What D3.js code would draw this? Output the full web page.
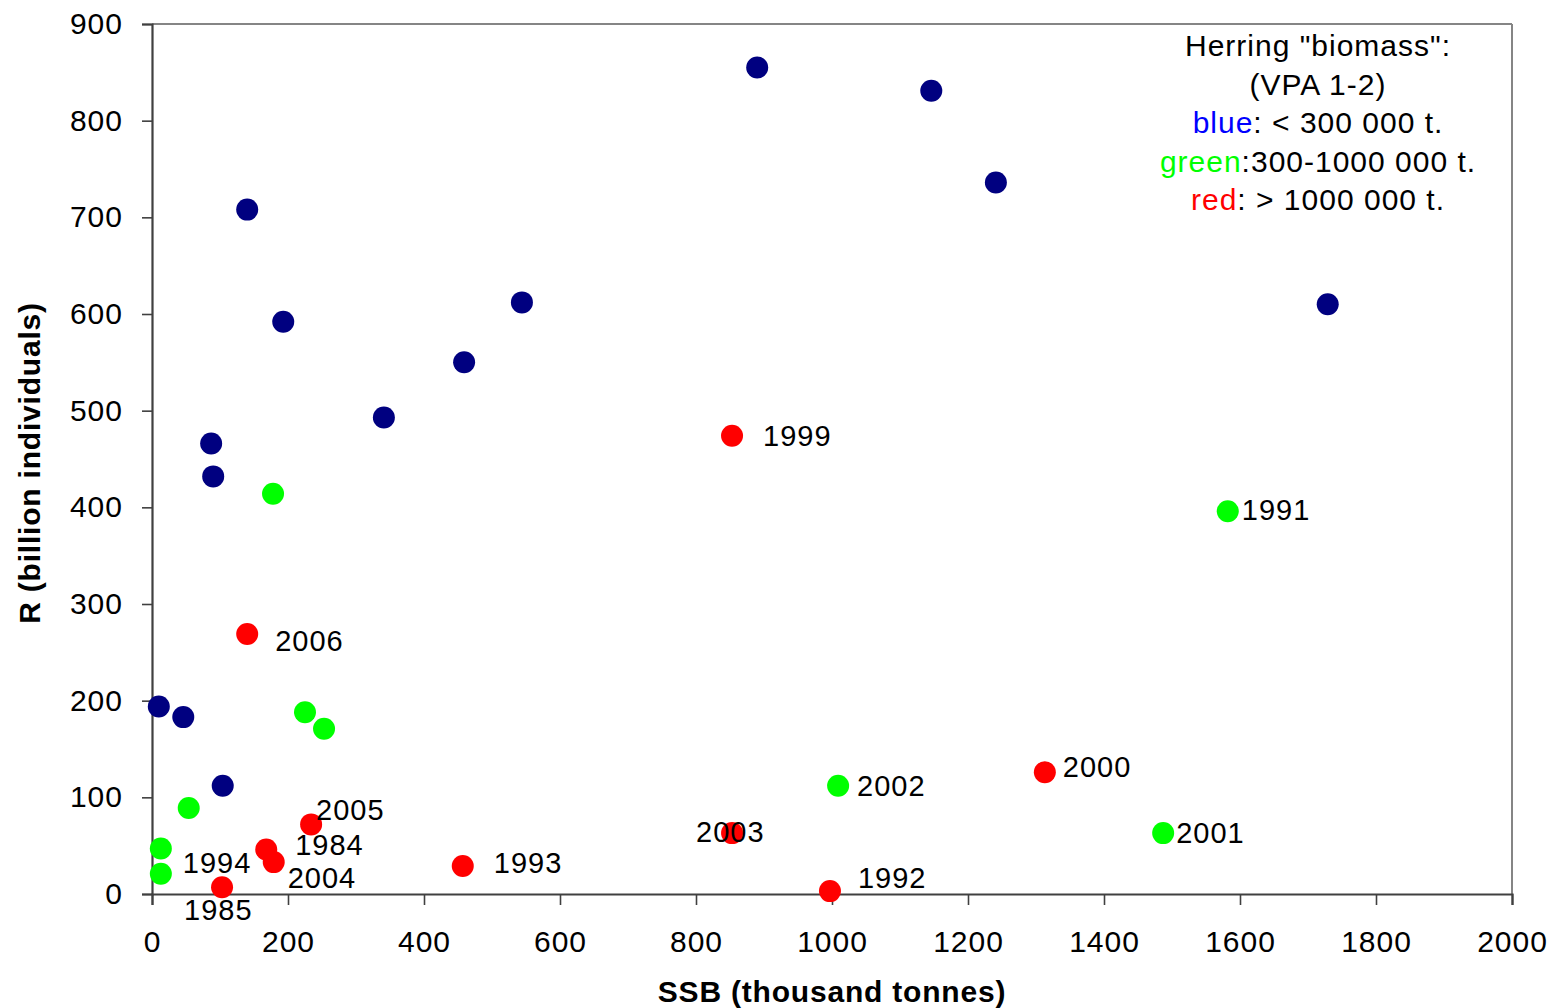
<!DOCTYPE html>
<html>
<head>
<meta charset="utf-8">
<script src="https://cdn.jsdelivr.net/npm/d3@7"></script>
<style>
  body { margin: 0; background: #fff; }
  svg text { font-family: "Liberation Sans", Arial, sans-serif; }
</style>
</head>
<body>
<script>
"use strict";

// SSB (thousand tonnes) and R (billion individuals)
var blueSSB = [890, 1146, 1241, 1729, 140, 193, 544, 459, 341, 87, 90, 10, 46, 104];
var blueR   = [855, 831, 736, 610, 708, 592, 612, 550, 493, 466, 432, 194, 183, 112];

var greenSSB  = [178, 225, 253, 54, 13, 13, 1009, 1487, 1582];
var greenR    = [414, 188, 171, 89, 47, 21, 112, 63, 396];
var greenYear = ["", "", "", "", "1994", "", "2002", "2001", "1991"];

var redSSB  = [853, 140, 234, 168, 179, 103, 457, 853, 997, 1313];
var redR    = [474, 269, 72, 46, 33, 7, 29, 63, 3, 126];
var redYear = ["1999", "2006", "2005", "1984", "2004", "1985", "1993", "2003", "1992", "2000"];

var xTicks = [0, 200, 400, 600, 800, 1000, 1200, 1400, 1600, 1800, 2000];
var yTicks = [0, 100, 200, 300, 400, 500, 600, 700, 800, 900];

var legendLines = [
	[["Herring \"biomass\":", "#000"]],
	[["(VPA 1-2)", "#000"]],
	[["blue", "#0000ff"], [": < 300 000 t.", "#000"]],
	[["green", "#00ff00"], [":300-1000 000 t.", "#000"]],
	[["red", "#ff0000"], [": > 1000 000 t.", "#000"]]
];

// where each year label sits relative to its dot (px)
var labelPlace = {
	"1999": [31, 0], "2006": [28, 7], "2005": [5, -15], "1984": [29, -5],
	"2004": [14, 15], "1985": [-38, 22], "1993": [31, -3], "2003": [-36, -2],
	"1992": [28, -14], "2000": [18, -6], "2002": [19, 0], "2001": [13, -1],
	"1991": [14, -2], "1994": [22, 14]
};

var W = 1557, H = 1008;
var plotLeft = 152, plotRight = 1512, plotTop = 24, plotBottom = 894;

var svg = d3.select("body").append("svg")
	.attr("width", W)
	.attr("height", H);

var x = d3.scaleLinear().domain([0, 2000]).range([plotLeft, plotRight]);
var y = d3.scaleLinear().domain([0, 900]).range([plotBottom, plotTop]);

// plot frame: light top/right, dark axes
svg.append("line").attr("x1", plotLeft).attr("x2", plotRight).attr("y1", plotTop).attr("y2", plotTop)
	.attr("stroke", "#858585").attr("stroke-width", 2);
svg.append("line").attr("x1", plotRight).attr("x2", plotRight).attr("y1", plotTop).attr("y2", plotBottom)
	.attr("stroke", "#858585").attr("stroke-width", 2);

var xAxis = svg.append("g")
	.attr("transform", "translate(0," + plotBottom + ")")
	.call(d3.axisBottom(x).tickValues(xTicks).tickSize(11).tickPadding(26).tickFormat(d3.format("d")));

var yAxis = svg.append("g")
	.attr("transform", "translate(" + plotLeft + ",0)")
	.call(d3.axisLeft(y).tickValues(yTicks).tickSize(10).tickPadding(19).tickFormat(d3.format("d")));

[xAxis, yAxis].forEach(function (ax) {
	ax.select(".domain").attr("stroke", "#404040").attr("stroke-width", 2.2);
	ax.selectAll(".tick line").attr("stroke", "#404040").attr("stroke-width", 1.6);
	ax.selectAll(".tick text")
		.attr("fill", "#000")
		.style("font-family", "'Liberation Sans', Arial, sans-serif")
		.style("font-size", "30px")
		.style("letter-spacing", "1px");
});
yAxis.selectAll(".tick text").attr("dy", "0.32em");
xAxis.selectAll(".tick text").attr("dy", "0.71em");

// axis titles
svg.append("text")
	.attr("x", (plotLeft + plotRight) / 2)
	.attr("y", 1002)
	.attr("text-anchor", "middle")
	.style("font-size", "30px")
	.style("font-weight", "bold")
	.style("letter-spacing", "0.8px")
	.text("SSB (thousand tonnes)");

svg.append("text")
	.attr("transform", "translate(40," + ((plotTop + plotBottom) / 2 + 4) + ") rotate(-90)")
	.attr("text-anchor", "middle")
	.style("font-size", "30px")
	.style("font-weight", "bold")
	.style("letter-spacing", "0.8px")
	.text("R (billion individuals)");

// dots
function drawDots(ssb, r, colour) {
	svg.append("g").selectAll("circle")
		.data(ssb.map(function (d, i) { return [d, r[i]]; }))
		.join("circle")
		.attr("cx", function (d) { return x(d[0]); })
		.attr("cy", function (d) { return y(d[1]); })
		.attr("r", 11)
		.attr("fill", colour);
}
drawDots(blueSSB, blueR, "#000080");
drawDots(greenSSB, greenR, "#00ff00");
drawDots(redSSB, redR, "#ff0000");

// year labels
function drawLabels(ssb, r, years) {
	var pts = [];
	years.forEach(function (yr, i) {
		if (yr && labelPlace[yr]) pts.push({ yr: yr, ssb: ssb[i], r: r[i] });
	});
	svg.append("g").selectAll("text")
		.data(pts)
		.join("text")
		.attr("x", function (d) { return x(d.ssb) + labelPlace[d.yr][0]; })
		.attr("y", function (d) { return y(d.r) + labelPlace[d.yr][1] + 10.5; })
		.style("font-size", "29px")
		.style("letter-spacing", "1px")
		.attr("fill", "#000")
		.text(function (d) { return d.yr; });
}
drawLabels(greenSSB, greenR, greenYear);
drawLabels(redSSB, redR, redYear);

// legend text, top right
var legend = svg.append("g");
legendLines.forEach(function (parts, i) {
	var t = legend.append("text")
		.attr("x", 1318)
		.attr("y", 56 + i * 38.6)
		.attr("text-anchor", "middle")
		.style("font-size", "30px")
		.style("letter-spacing", "1px");
	parts.forEach(function (p) {
		t.append("tspan").attr("fill", p[1]).text(p[0]);
	});
});
</script>
</body>
</html>
